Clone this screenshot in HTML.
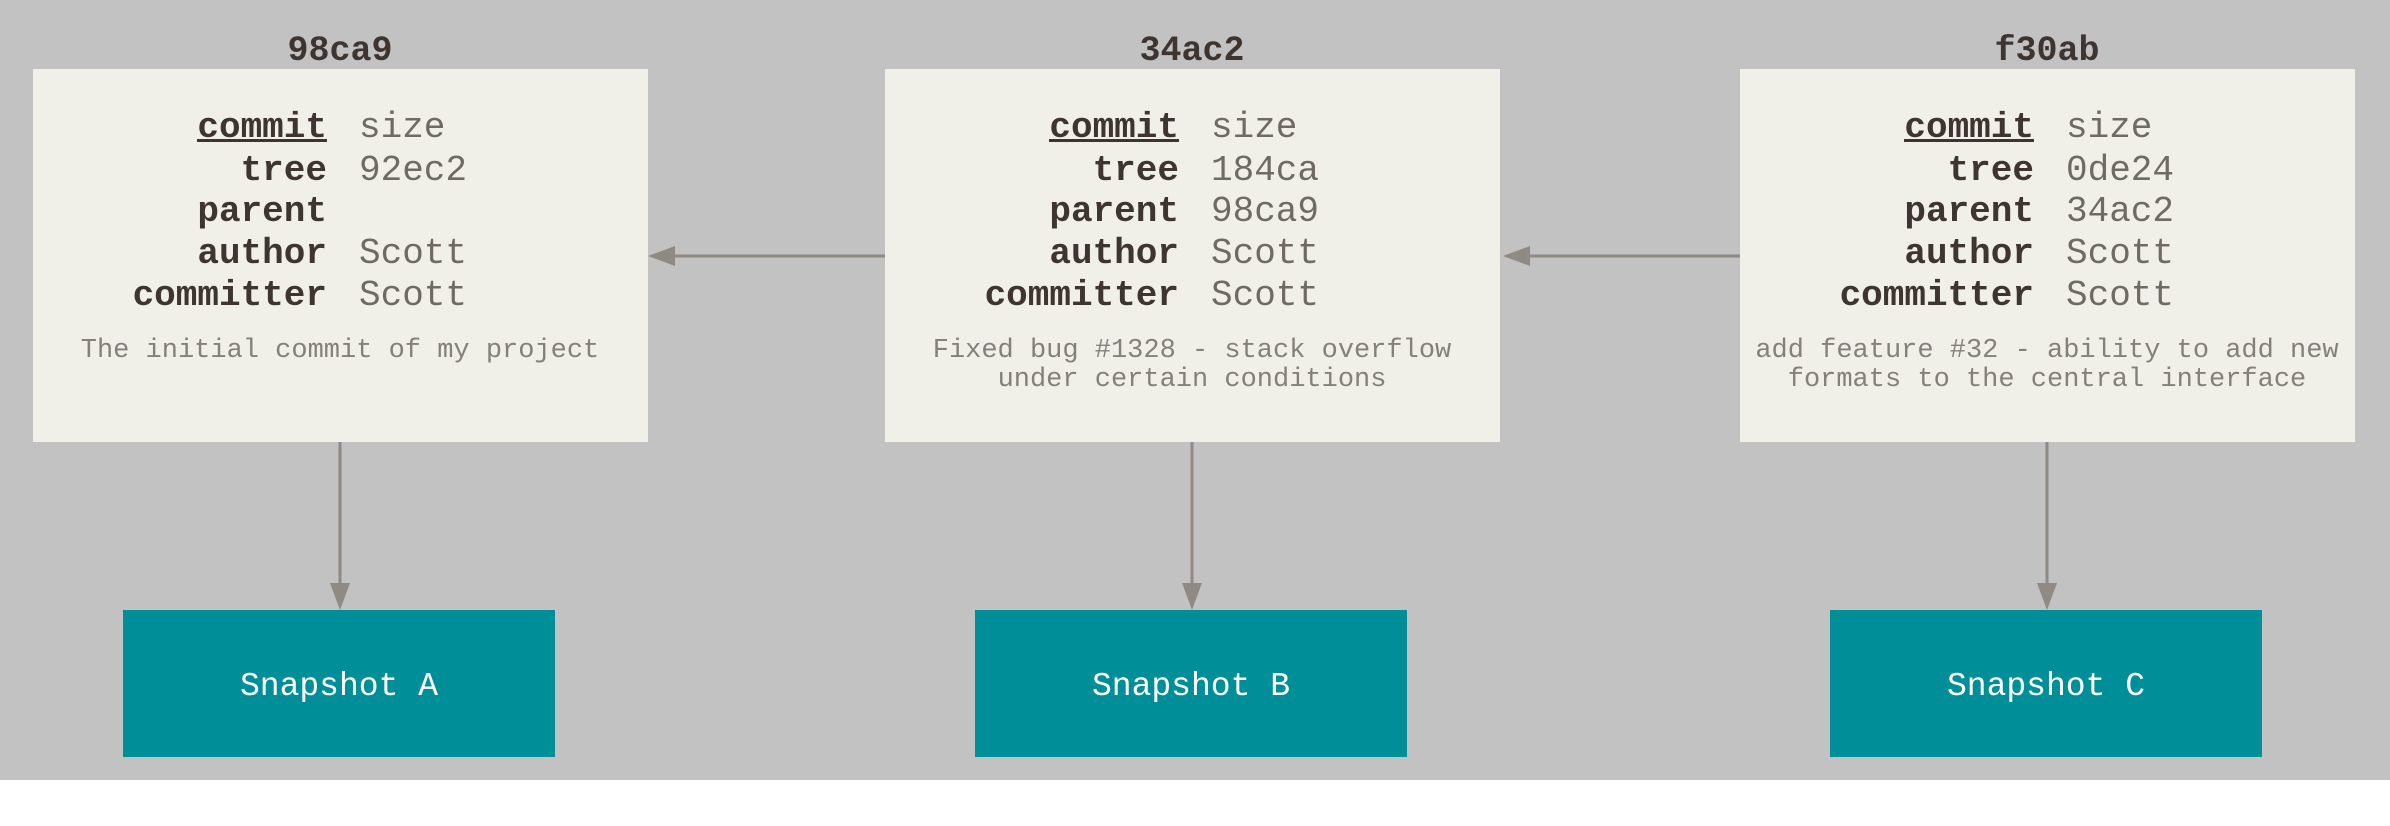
<!DOCTYPE html>
<html><head><meta charset="utf-8"><style>
html,body{margin:0;padding:0;background:#fff;}
svg{display:block;}
.t{font-family:"Liberation Mono",monospace;font-weight:bold;font-size:35px;fill:#3e3530;}
.l{font-family:"Liberation Mono",monospace;font-weight:bold;font-size:36px;fill:#3e3530;text-anchor:end;}
.v{font-family:"Liberation Mono",monospace;font-size:36px;fill:#6f6a64;}
.d{font-family:"Liberation Mono",monospace;font-size:27px;fill:#85807a;text-anchor:middle;}
.s{font-family:"Liberation Mono",monospace;font-size:33px;fill:#fff;text-anchor:middle;}
</style></head><body>
<svg width="2390" height="826" viewBox="0 0 2390 826" xmlns="http://www.w3.org/2000/svg">
<rect x="0" y="0" width="2390" height="780" fill="#c2c2c2"/>
<g stroke="#8f8a83" stroke-width="3" fill="#8f8a83">
<line x1="885" y1="256" x2="670" y2="256"/><polygon points="648,256 675,246 675,266" stroke="none"/>
<line x1="1740" y1="256" x2="1525" y2="256"/><polygon points="1503,256 1530,246 1530,266" stroke="none"/>
<line x1="340" y1="442" x2="340" y2="590"/><polygon points="340,610 330,583 350,583" stroke="none"/>
<line x1="1192" y1="442" x2="1192" y2="590"/><polygon points="1192,610 1182,583 1202,583" stroke="none"/>
<line x1="2047" y1="442" x2="2047" y2="590"/><polygon points="2047,610 2037,583 2057,583" stroke="none"/>
</g>
<g>
<rect x="33" y="69" width="615" height="373" fill="#f0efe8"/>
<text class="t" x="340" y="60" text-anchor="middle">98ca9</text>
<text class="l" x="327" y="137">commit</text><rect x="197" y="139" width="130" height="3" fill="#3e3530"/>
<text class="l" x="327" y="180">tree</text><text class="l" x="327" y="221">parent</text><text class="l" x="327" y="263">author</text><text class="l" x="327" y="305">committer</text>
<text class="v" x="359" y="137">size</text><text class="v" x="359" y="180">92ec2</text><text class="v" x="359" y="263">Scott</text><text class="v" x="359" y="305">Scott</text>
<text class="d" x="340" y="357">The initial commit of my project</text>
<rect x="123" y="610" width="432" height="147" fill="#008f98"/>
<text class="s" x="339" y="695">Snapshot A</text>
</g>
<g>
<rect x="885" y="69" width="615" height="373" fill="#f0efe8"/>
<text class="t" x="1192" y="60" text-anchor="middle">34ac2</text>
<text class="l" x="1179" y="137">commit</text><rect x="1049" y="139" width="130" height="3" fill="#3e3530"/>
<text class="l" x="1179" y="180">tree</text><text class="l" x="1179" y="221">parent</text><text class="l" x="1179" y="263">author</text><text class="l" x="1179" y="305">committer</text>
<text class="v" x="1211" y="137">size</text><text class="v" x="1211" y="180">184ca</text><text class="v" x="1211" y="221">98ca9</text><text class="v" x="1211" y="263">Scott</text><text class="v" x="1211" y="305">Scott</text>
<text class="d" x="1192" y="357">Fixed bug #1328 - stack overflow</text>
<text class="d" x="1192" y="386">under certain conditions</text>
<rect x="975" y="610" width="432" height="147" fill="#008f98"/>
<text class="s" x="1191" y="695">Snapshot B</text>
</g>
<g>
<rect x="1740" y="69" width="615" height="373" fill="#f0efe8"/>
<text class="t" x="2047" y="60" text-anchor="middle">f30ab</text>
<text class="l" x="2034" y="137">commit</text><rect x="1904" y="139" width="130" height="3" fill="#3e3530"/>
<text class="l" x="2034" y="180">tree</text><text class="l" x="2034" y="221">parent</text><text class="l" x="2034" y="263">author</text><text class="l" x="2034" y="305">committer</text>
<text class="v" x="2066" y="137">size</text><text class="v" x="2066" y="180">0de24</text><text class="v" x="2066" y="221">34ac2</text><text class="v" x="2066" y="263">Scott</text><text class="v" x="2066" y="305">Scott</text>
<text class="d" x="2047" y="357">add feature #32 - ability to add new</text>
<text class="d" x="2047" y="386">formats to the central interface</text>
<rect x="1830" y="610" width="432" height="147" fill="#008f98"/>
<text class="s" x="2046" y="695">Snapshot C</text>
</g>
</svg>
</body></html>
